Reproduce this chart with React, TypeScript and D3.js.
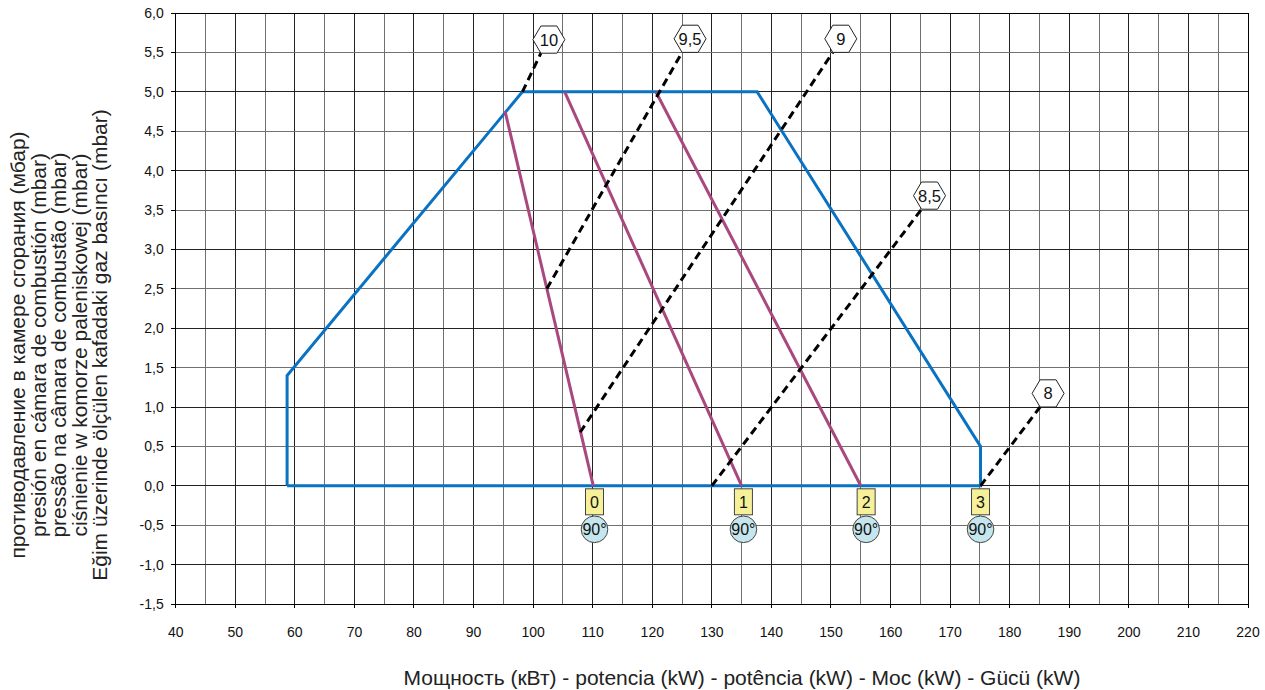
import React from "react";
import * as d3 from "d3";

const W = 1265;
const H = 690;

const xTickValues = d3.range(40, 221, 10);
const yTickValues = d3.range(-1.5, 6.001, 0.5);
const xGridValues = d3.range(40, 221, 5);

// working field envelope (kW, mbar)
const envelopeX = [58.7, 58.7, 98.2, 137.6, 175.1, 175.1];
const envelopeY = [0, 1.4, 5.0, 5.0, 0.5, 0];

// air damper settings (purple)
const damperBottomX = [110.1, 135.0, 155.0];
const damperTopX = [95.3, 105.3, 120.6];
const damperTopY = [4.75, 5.0, 5.0];

// head settings (dashed)
const headLabels = ["10", "9,5", "9", "8,5", "8"];
const headX0 = [98.2, 102.3, 107.9, 130.0, 175.1];
const headY0 = [5.0, 2.5, 0.68, 0.0, 0.0];
const headX1 = [101.3, 125.0, 150.3, 165.2, 185.1];
const headY1 = [5.49, 5.5, 5.5, 3.51, 1.0];

// setting markers
const markerLabels = ["0", "1", "2", "3"];
const markerX = [110.3, 135.3, 155.9, 175.1];
const markerAngle = ["90°", "90°", "90°", "90°"];

const yTitleLines = [
  "противодавление в камере сгорания (мбар)",
  "presión en cámara de combustión (mbar)",
  "pressão na câmara de combustão (mbar)",
  "ciśnienie w komorze paleniskowej (mbar)",
  "Eğim üzerinde ölçülen kafadaki gaz basıncı (mbar)",
];
const xTitle =
  "Мощность (кВт) - potencia (kW) - potência (kW) - Moc (kW) - Gücü (kW)";

const FONT = "Liberation Sans, Arial, Helvetica, sans-serif";

export default function App() {
  const x = d3.scaleLinear().domain([40, 220]).range([175.7, 1248]);
  const y = d3.scaleLinear().domain([-1.5, 6]).range([604, 13]);

  const line = d3
    .line<[number, number]>()
    .x((d) => x(d[0]))
    .y((d) => y(d[1]));

  const envelope = envelopeX.map((v, i) => [v, envelopeY[i]] as [number, number]);

  const hexPts = [
    [-16, 0],
    [-8, -13.6],
    [8, -13.6],
    [16, 0],
    [8, 13.6],
    [-8, 13.6],
  ]
    .map((p) => p.join(","))
    .join(" ");

  const fmt = (v: number) => v.toFixed(1).replace(".", ",");

  return (
    <svg
      width={W}
      height={H}
      style={{ position: "absolute", left: 0, top: 0, background: "#fff" }}
      fontFamily={FONT}
    >
      {/* grid */}
      <g shapeRendering="crispEdges">
        {xGridValues.map((v) => (
          <line
            key={"gx" + v}
            x1={x(v)}
            x2={x(v)}
            y1={y(6)}
            y2={y(-1.5)}
            stroke={v % 10 === 0 ? "#222" : "#707070"}
            strokeWidth={1}
          />
        ))}
        {yTickValues.map((v) => (
          <line
            key={"gy" + v}
            x1={x(40)}
            x2={x(220)}
            y1={y(v)}
            y2={y(v)}
            stroke={Math.abs(v % 1) < 1e-6 ? "#222" : "#707070"}
            strokeWidth={1}
          />
        ))}
        {/* ticks */}
        {yTickValues.map((v) => (
          <line
            key={"ty" + v}
            x1={x(40) - 5}
            x2={x(40)}
            y1={y(v)}
            y2={y(v)}
            stroke="#000"
          />
        ))}
        {xTickValues.map((v) => (
          <line
            key={"tx" + v}
            x1={x(v)}
            x2={x(v)}
            y1={y(-1.5)}
            y2={y(-1.5) + 4}
            stroke="#000"
          />
        ))}
        <line x1={x(40)} x2={x(40)} y1={y(6)} y2={y(-1.5)} stroke="#000" />
        <line x1={x(40)} x2={x(220)} y1={y(-1.5)} y2={y(-1.5)} stroke="#000" />
        <line x1={x(40)} x2={x(220)} y1={y(6)} y2={y(6)} stroke="#000" />
        <line x1={x(220)} x2={x(220)} y1={y(6)} y2={y(-1.5)} stroke="#000" />
      </g>

      {/* tick labels */}
      {yTickValues.map((v) => (
        <text
          key={"ly" + v}
          x={x(40) - 12}
          y={y(v) + 5}
          textAnchor="end"
          fontSize={14}
          fill="#111"
        >
          {fmt(v)}
        </text>
      ))}
      {xTickValues.map((v) => (
        <text
          key={"lx" + v}
          x={x(v)}
          y={637}
          textAnchor="middle"
          fontSize={14}
          fill="#111"
        >
          {v}
        </text>
      ))}

      {/* envelope */}
      <path
        d={line([...envelope, envelope[0]]) || ""}
        fill="none"
        stroke="#0a72c2"
        strokeWidth={3}
        strokeLinejoin="miter"
      />

      {/* damper lines */}
      {damperBottomX.map((bx, i) => (
        <path
          key={"dm" + i}
          d={
            line([
              [bx, 0],
              [damperTopX[i], damperTopY[i]],
            ]) || ""
          }
          stroke="#a9487f"
          strokeWidth={3}
          fill="none"
        />
      ))}

      {/* head lines */}
      {headLabels.map((lab, i) => (
        <path
          key={"hd" + i}
          d={
            line([
              [headX0[i], headY0[i]],
              [headX1[i], headY1[i]],
            ]) || ""
          }
          stroke="#000"
          strokeWidth={3}
          strokeDasharray="8,5"
          fill="none"
        />
      ))}

      {/* hexagon labels */}
      {headLabels.map((lab, i) => {
        const cx = x(headX1[i]) + 8;
        const cy = y(headY1[i]) - 13.6;
        return (
          <g key={"hx" + i} transform={`translate(${cx},${cy})`}>
            <polygon points={hexPts} fill="#fff" stroke="#222" strokeWidth={1} />
            <text y={6} textAnchor="middle" fontSize={16.5} fill="#111">
              {lab}
            </text>
          </g>
        );
      })}

      {/* setting markers */}
      {markerLabels.map((lab, i) => {
        const cx = x(markerX[i]);
        const top = y(0) + 3;
        return (
          <g key={"mk" + i}>
            <circle
              cx={cx}
              cy={y(0) + 43.5}
              r={13.3}
              fill="#c4e6ec"
              stroke="#444"
              strokeWidth={1}
            />
            <rect
              x={cx - 9}
              y={top}
              width={18}
              height={26}
              fill="#f6f199"
              stroke="#444"
              strokeWidth={1}
            />
            <text
              x={cx}
              y={top + 19}
              textAnchor="middle"
              fontSize={16}
              fill="#111"
            >
              {lab}
            </text>
            <text
              x={cx}
              y={y(0) + 49.5}
              textAnchor="middle"
              fontSize={16}
              fill="#111"
            >
              {markerAngle[i]}
            </text>
          </g>
        );
      })}

      {/* axis titles */}
      {yTitleLines.map((t, i) => (
        <text
          key={"yt" + i}
          transform={`translate(${25 + i * 20.5},345) rotate(-90)`}
          textAnchor="middle"
          fontSize={21}
          fill="#222"
        >
          {t}
        </text>
      ))}
      <text x={742} y={685} textAnchor="middle" fontSize={21} fill="#222">
        {xTitle}
      </text>
    </svg>
  );
}
